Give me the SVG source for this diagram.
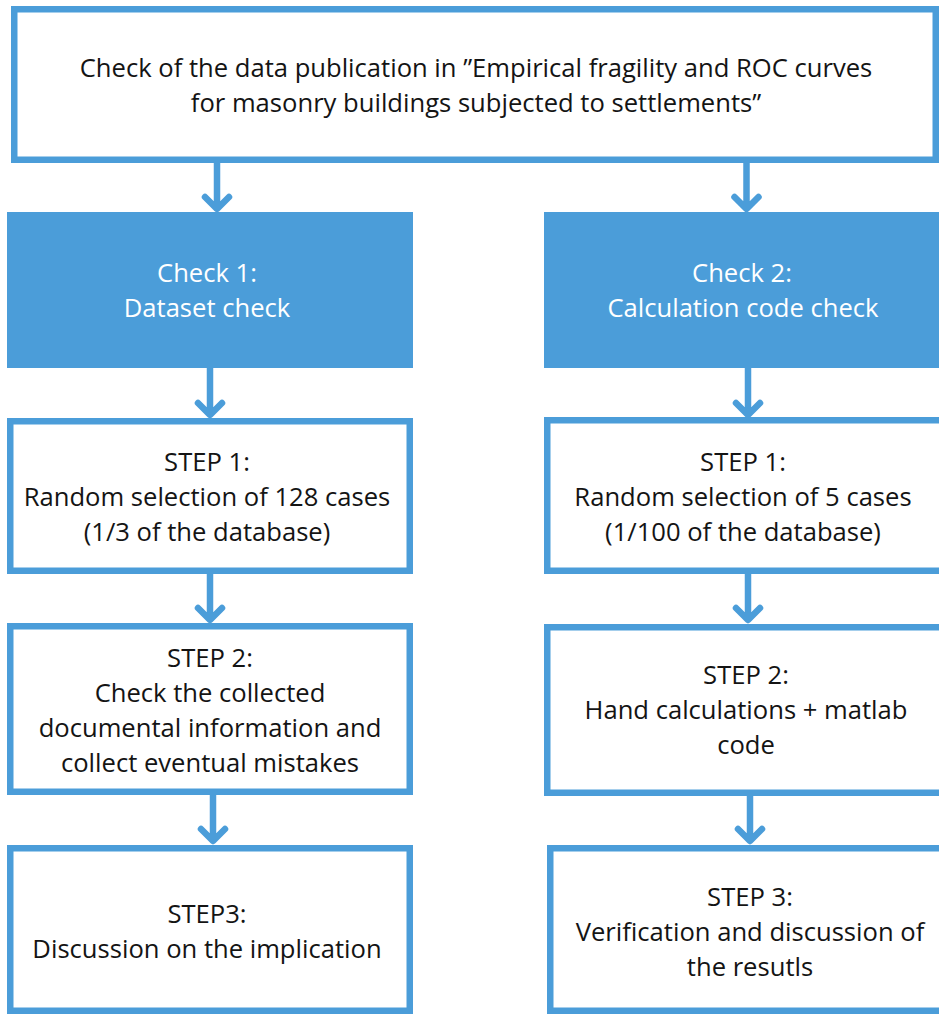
<svg xmlns="http://www.w3.org/2000/svg" width="939" height="1014" viewBox="0 0 939 1014">
  <defs>
    <style>
      .box { fill: #ffffff; stroke: #4b9dd9; stroke-width: 6.5; }
      .head { fill: #4b9dd9; stroke: none; }
      .txt { font-family: "Open Sans", "Liberation Sans", sans-serif; font-size: 25.6px; fill: #141414; text-anchor: middle; }
      .wtxt { fill: #ffffff; }
      .conn { fill: none; stroke: #4b9dd9; stroke-width: 6.5; stroke-linecap: round; stroke-linejoin: round; }
    </style>
  </defs>
  <rect width="939" height="1014" fill="#ffffff"/>

  <!-- connectors -->
  <g id="connectors">
    <path class="conn" d="M217 163 V208 M205 197 L217 209 L229 197"/>
    <path class="conn" d="M746.5 163 V208 M734.5 197 L746.5 209 L758.5 197"/>
    <path class="conn" d="M210 368 V414 M198 403 L210 415 L222 403"/>
    <path class="conn" d="M748 368 V414 M736 403 L748 415 L760 403"/>
    <path class="conn" d="M210 574 V619 M198 608 L210 620 L222 608"/>
    <path class="conn" d="M748 574 V619 M736 608 L748 620 L760 608"/>
    <path class="conn" d="M213 795 V840 M201 829 L213 841 L225 829"/>
    <path class="conn" d="M750 795 V840 M738 829 L750 841 L762 829"/>
  </g>

  <!-- publication check -->
  <g id="node-publication">
    <rect class="box" x="14.25" y="9.25" width="921.5" height="150.5"/>
    <text class="txt" x="476" y="77">Check of the data publication in ”Empirical fragility and ROC curves</text>
    <text class="txt" x="476" y="112">for masonry buildings subjected to settlements”</text>
  </g>

  <!-- check 1 column -->
  <g id="node-check1">
    <rect class="head" x="7" y="212" width="406" height="156"/>
    <text class="txt wtxt" x="207" y="282">Check 1:</text>
    <text class="txt wtxt" x="207" y="317">Dataset check</text>
  </g>
  <g id="node-check1-step1">
    <rect class="box" x="10.25" y="421.25" width="399.5" height="149.5"/>
    <text class="txt" x="207" y="471">STEP 1:</text>
    <text class="txt" x="207" y="506">Random selection of 128 cases</text>
    <text class="txt" x="207" y="541">(1/3 of the database)</text>
  </g>
  <g id="node-check1-step2">
    <rect class="box" x="10.25" y="626.25" width="399.5" height="165.5"/>
    <text class="txt" x="210" y="667">STEP 2:</text>
    <text class="txt" x="210" y="702">Check the collected</text>
    <text class="txt" x="210" y="737">documental information and</text>
    <text class="txt" x="210" y="772">collect eventual mistakes</text>
  </g>
  <g id="node-check1-step3">
    <rect class="box" x="10.25" y="848.25" width="399.5" height="162.5"/>
    <text class="txt" x="207" y="923">STEP3:</text>
    <text class="txt" x="207" y="958">Discussion on the implication</text>
  </g>

  <!-- check 2 column -->
  <g id="node-check2">
    <rect class="head" x="544" y="212" width="400" height="156"/>
    <text class="txt wtxt" x="742" y="282">Check 2:</text>
    <text class="txt wtxt" x="743" y="317">Calculation code check</text>
  </g>
  <g id="node-check2-step1">
    <rect class="box" x="547.25" y="420.25" width="396" height="150.5"/>
    <text class="txt" x="743" y="471">STEP 1:</text>
    <text class="txt" x="743" y="506">Random selection of 5 cases</text>
    <text class="txt" x="743" y="541">(1/100 of the database)</text>
  </g>
  <g id="node-check2-step2">
    <rect class="box" x="547.25" y="627.25" width="396" height="165.5"/>
    <text class="txt" x="746" y="684">STEP 2:</text>
    <text class="txt" x="746" y="719">Hand calculations + matlab</text>
    <text class="txt" x="746" y="754">code</text>
  </g>
  <g id="node-check2-step3">
    <rect class="box" x="550.25" y="848.25" width="396" height="162.5"/>
    <text class="txt" x="750" y="906">STEP 3:</text>
    <text class="txt" x="750" y="941">Verification and discussion of</text>
    <text class="txt" x="750" y="976">the resutls</text>
  </g>
</svg>
